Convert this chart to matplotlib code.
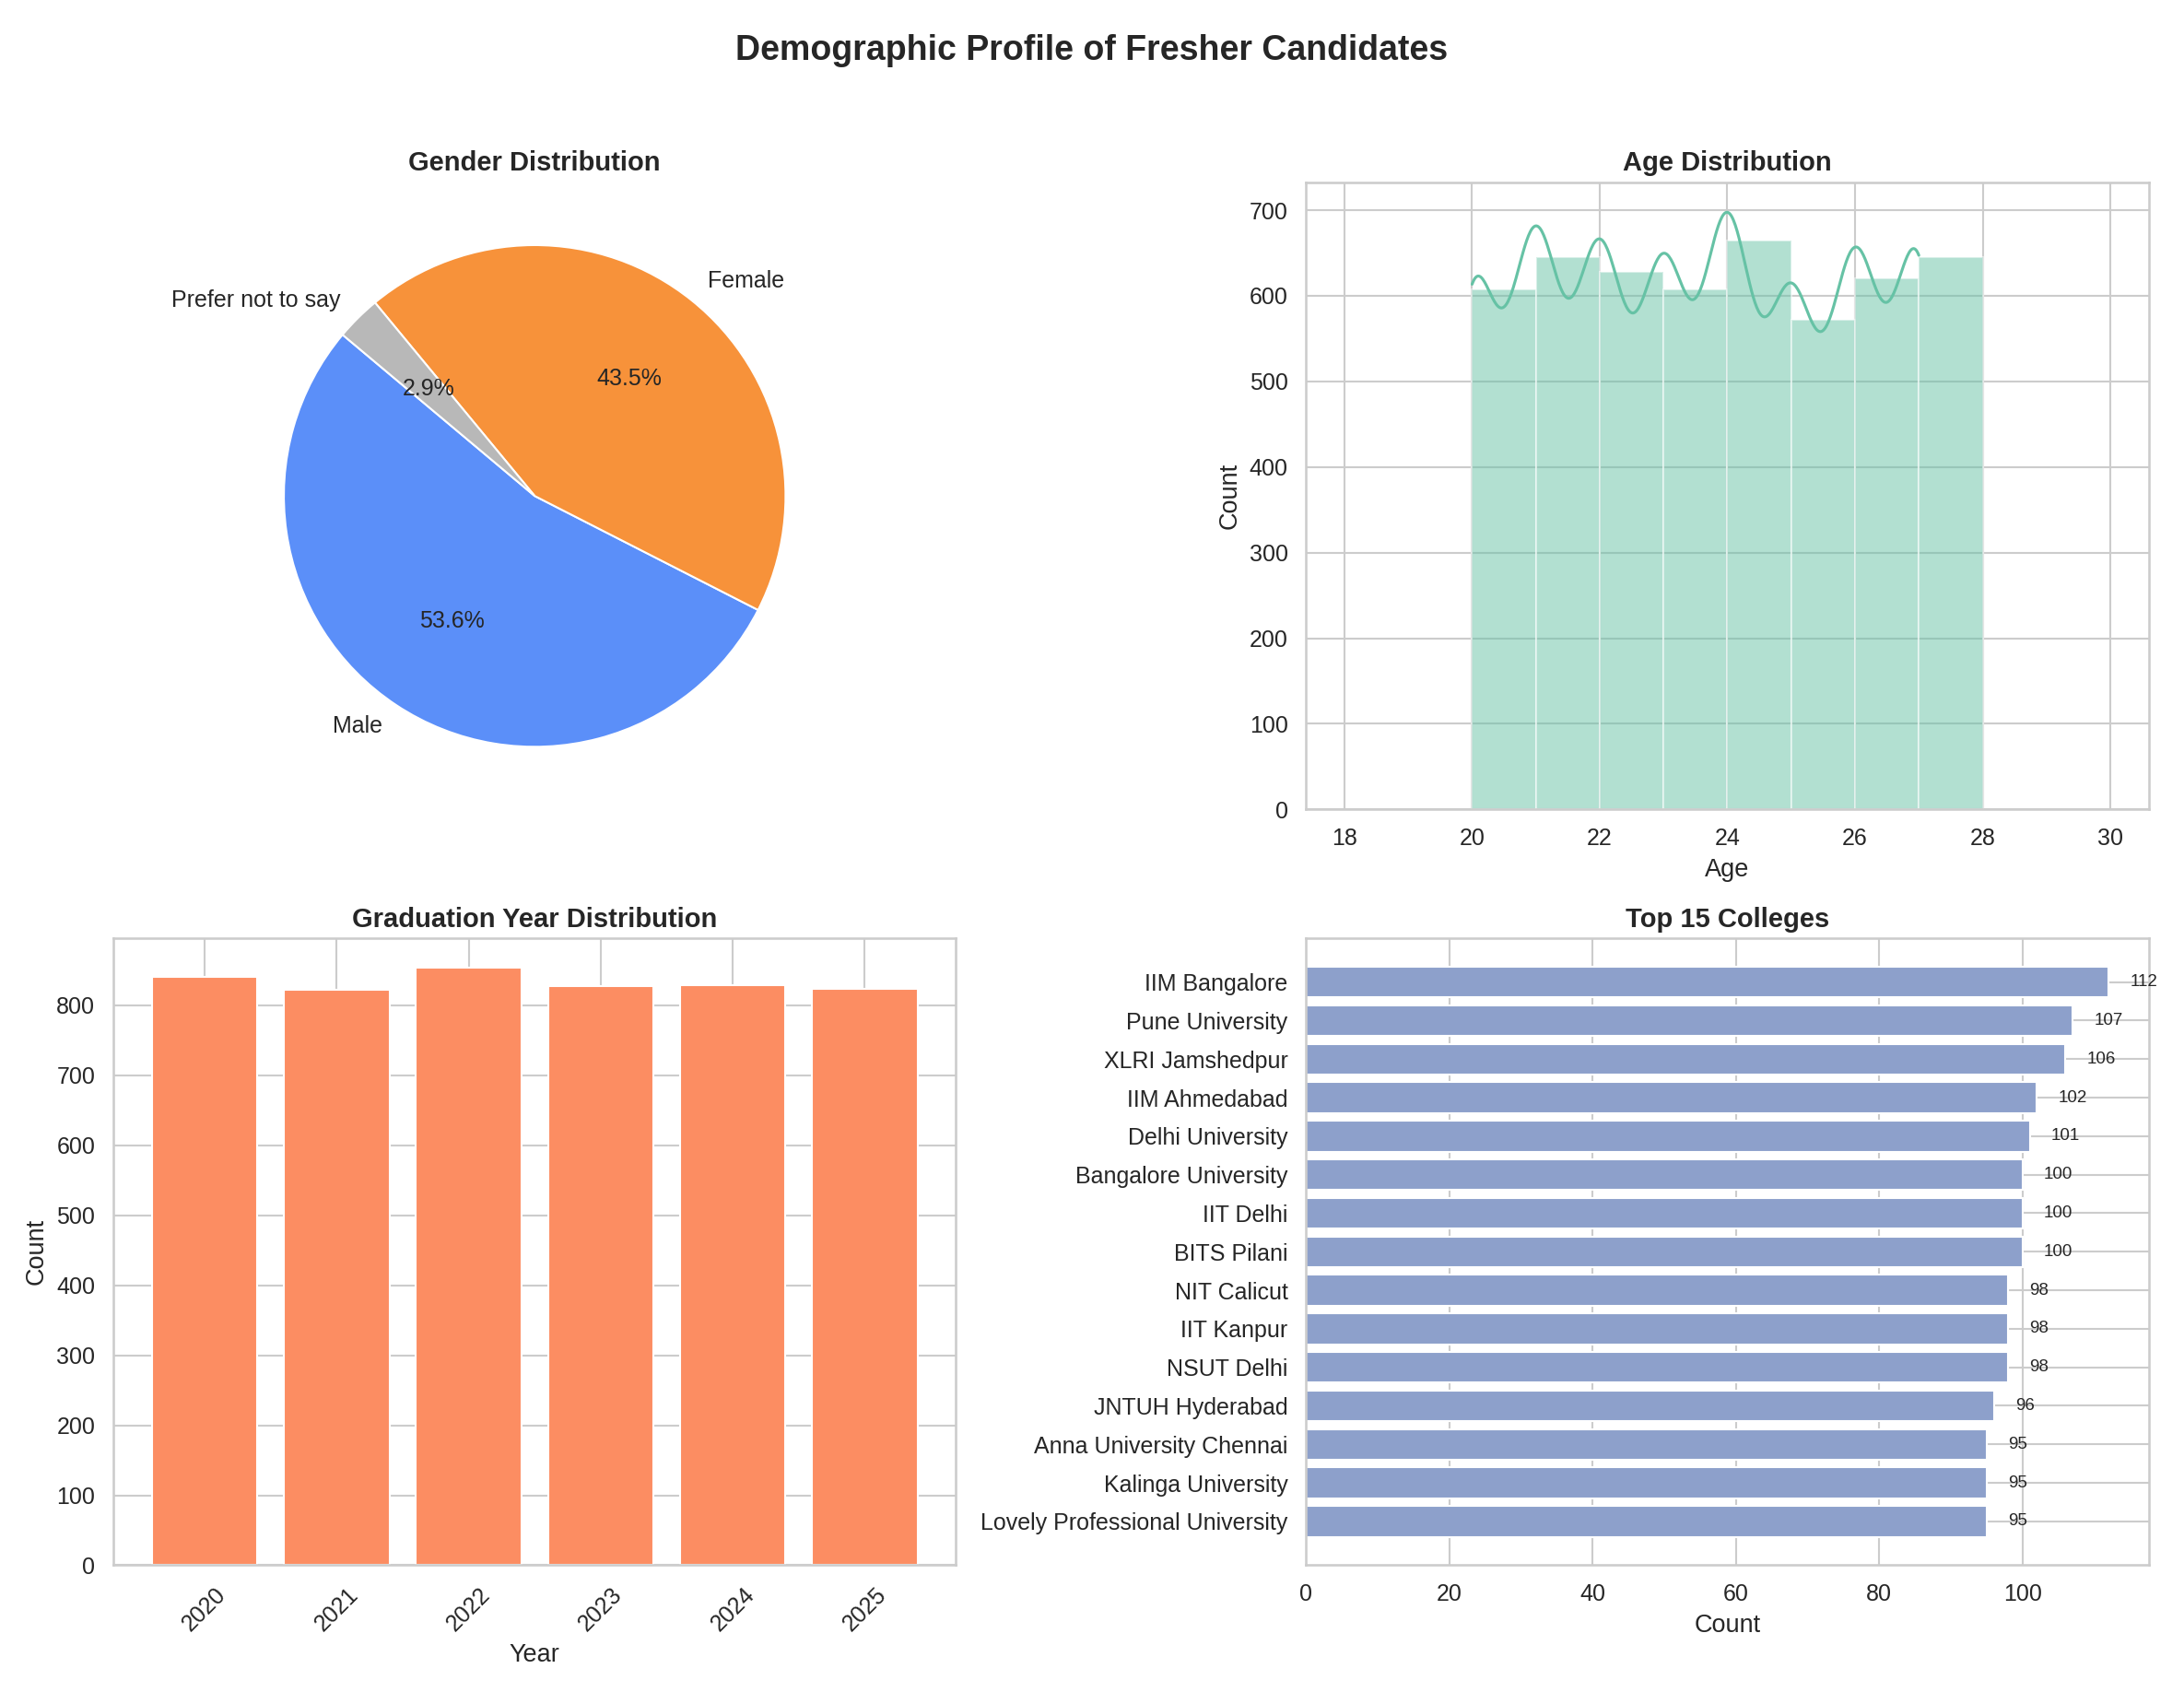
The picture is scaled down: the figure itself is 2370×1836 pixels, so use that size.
import numpy as np
import matplotlib.pyplot as plt
import seaborn as sns

sns.set_theme(style="whitegrid")
plt.rcParams['font.family'] = ['Liberation Sans', 'DejaVu Sans']

gender_labels = ["Male", "Female", "Prefer not to say"]
gender_pct = [53.6, 43.5, 2.9]
gender_colors = ["#5b8ff9", "#f7923a", "#b8b8b8"]

ages = [20, 21, 22, 23, 24, 25, 26, 27]
age_counts = [608, 645, 628, 608, 665, 572, 620, 645]

years = ["2020", "2021", "2022", "2023", "2024", "2025"]
year_counts = [840, 822, 853, 827, 829, 823]

colleges = ["IIM Bangalore", "Pune University", "XLRI Jamshedpur", "IIM Ahmedabad",
            "Delhi University", "Bangalore University", "IIT Delhi", "BITS Pilani",
            "NIT Calicut", "IIT Kanpur", "NSUT Delhi", "JNTUH Hyderabad",
            "Anna University Chennai", "Kalinga University", "Lovely Professional University"]
college_counts = [112, 107, 106, 102, 101, 100, 100, 100, 98, 98, 98, 96, 95, 95, 95]

fig, axes = plt.subplots(2, 2, figsize=(15.8, 12.24), dpi=150)
fig.suptitle("Demographic Profile of Fresher Candidates", fontsize=18, fontweight="bold")

# genere
ax = axes[0, 0]
ax.pie(gender_pct, labels=gender_labels, colors=gender_colors, autopct="%1.1f%%",
       startangle=140, wedgeprops=dict(edgecolor="white"), textprops=dict(fontsize=12))
ax.set_title("Gender Distribution", fontsize=14, fontweight="bold")

# eta
ax = axes[0, 1]
ax.bar(ages, age_counts, width=1, align="edge", color="#66c2a5", alpha=0.5, edgecolor="white")
xs = np.linspace(20, 27, 500)
h = 0.42
kde = np.zeros_like(xs)
for a, c in zip(ages, age_counts):
    kde += c * np.exp(-0.5 * ((xs - a) / h) ** 2) / (np.sqrt(2 * np.pi) * h)
ax.plot(xs, kde, color="#66c2a5", lw=1.5)
ax.set_xlim(17.4, 30.6)
ax.set_title("Age Distribution", fontsize=14, fontweight="bold")
ax.set_xlabel("Age", fontsize=13)
ax.set_ylabel("Count", fontsize=13)
ax.tick_params(labelsize=12)

# anno di laurea
ax = axes[1, 0]
ax.bar(years, year_counts, color="#fc8d62")
ax.set_title("Graduation Year Distribution", fontsize=14, fontweight="bold")
ax.set_xlabel("Year", fontsize=13)
ax.set_ylabel("Count", fontsize=13)
ax.tick_params(labelsize=12)
ax.tick_params(axis="x", rotation=45)

# college
ax = axes[1, 1]
ypos = np.arange(len(colleges))
ax.barh(ypos, college_counts, color="#8da0cb")
ax.set_yticks(ypos)
ax.set_yticklabels(colleges)
ax.invert_yaxis()
for y, v in zip(ypos, college_counts):
    ax.text(v + 3, y, str(v), va="center", fontsize=9)
ax.set_title("Top 15 Colleges", fontsize=14, fontweight="bold")
ax.set_xlabel("Count", fontsize=13)
ax.tick_params(labelsize=12)

plt.tight_layout(rect=[0, 0, 1, 0.96])
plt.savefig("out.png")
